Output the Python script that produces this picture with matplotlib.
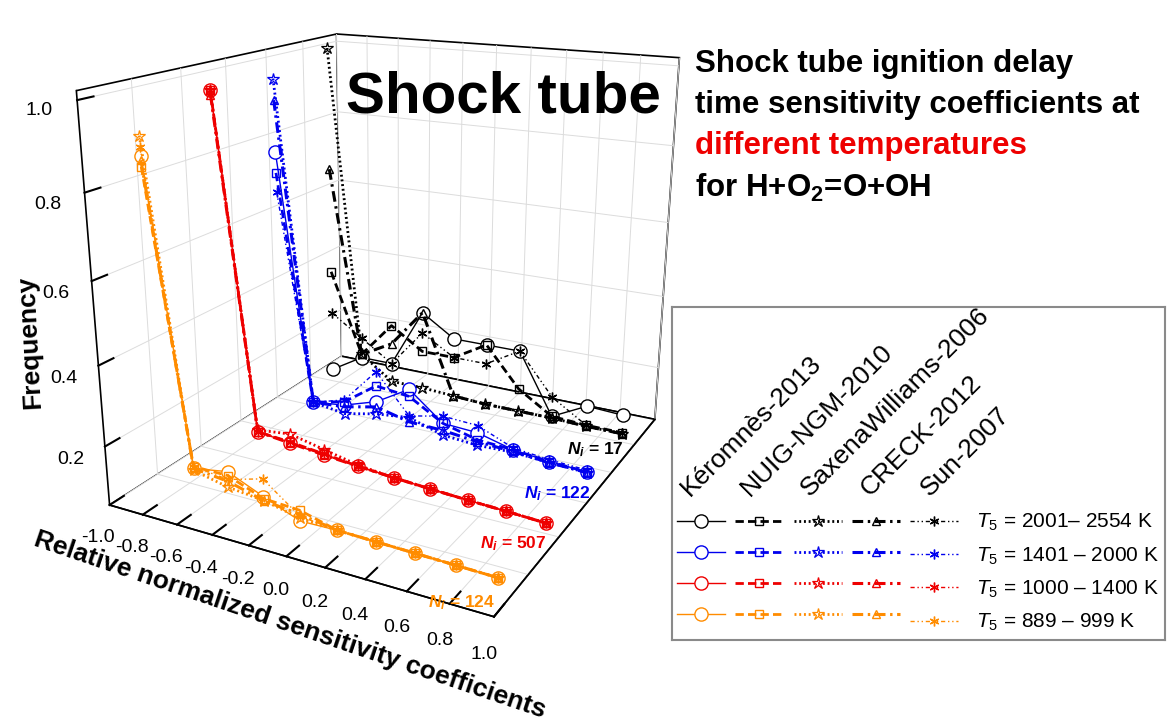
import matplotlib
matplotlib.use("Agg")
import matplotlib.pyplot as plt
from matplotlib.lines import Line2D
import numpy as np

# bin centres of the relative normalized sensitivity coefficient
bins = [-0.9, -0.7, -0.5, -0.3, -0.1, 0.1, 0.3, 0.5, 0.7, 0.9]
xtick_labels = ["-1.0", "-0.8", "-0.6", "-0.4", "-0.2", "0.0", "0.2", "0.4", "0.6", "0.8", "1.0"]
models = ["Kéromnès-2013", "NUIG-NGM-2010", "SaxenaWilliams-2006", "CRECK-2012", "Sun-2007"]
t_ranges = ["2001– 2554", "1401 – 2000", "1000 – 1400", "889 – 999"]
n_counts = [17, 122, 507, 124]

# frequency per bin, one row per model (same order as models)
freq_2001 = [
    [0.065, 0.12, 0.12, 0.29, 0.23, 0.23, 0.23, 0.06, 0.11, 0.105],
    [0.365, 0.13, 0.235, 0.175, 0.175, 0.23, 0.12, 0.06, 0.055, 0.055],
    [1.0, 0.13, 0.065, 0.065, 0.06, 0.055, 0.055, 0.055, 0.052, 0.052],
    [0.665, 0.13, 0.18, 0.29, 0.06, 0.055, 0.055, 0.055, 0.052, 0.052],
    [0.24, 0.18, 0.12, 0.23, 0.175, 0.175, 0.23, 0.115, 0.055, 0.055],
]
freq_1401 = [
    [0.765, 0.083, 0.095, 0.125, 0.18, 0.105, 0.1, 0.075, 0.065, 0.06],
    [0.71, 0.083, 0.105, 0.17, 0.16, 0.105, 0.08, 0.075, 0.065, 0.06],
    [0.955, 0.083, 0.07, 0.09, 0.1, 0.072, 0.065, 0.068, 0.062, 0.058],
    [0.90, 0.083, 0.09, 0.11, 0.088, 0.085, 0.075, 0.07, 0.062, 0.058],
    [0.66, 0.083, 0.11, 0.21, 0.105, 0.125, 0.12, 0.08, 0.07, 0.065],
]
freq_1000 = [
    [0.965, 0.105, 0.095, 0.085, 0.077, 0.07, 0.064, 0.059, 0.055, 0.05],
    [0.965, 0.105, 0.098, 0.088, 0.077, 0.07, 0.064, 0.059, 0.055, 0.05],
    [0.965, 0.11, 0.12, 0.1, 0.08, 0.07, 0.064, 0.059, 0.055, 0.05],
    [0.955, 0.105, 0.095, 0.085, 0.077, 0.07, 0.064, 0.059, 0.055, 0.05],
    [0.965, 0.105, 0.098, 0.088, 0.077, 0.07, 0.064, 0.059, 0.055, 0.05],
]
freq_889 = [
    [0.86, 0.12, 0.135, 0.095, 0.058, 0.06, 0.058, 0.056, 0.054, 0.052],
    [0.835, 0.125, 0.125, 0.09, 0.085, 0.06, 0.058, 0.056, 0.054, 0.052],
    [0.905, 0.115, 0.095, 0.085, 0.065, 0.06, 0.058, 0.056, 0.054, 0.052],
    [0.85, 0.12, 0.11, 0.085, 0.075, 0.06, 0.058, 0.056, 0.054, 0.052],
    [0.88, 0.125, 0.115, 0.14, 0.07, 0.06, 0.058, 0.056, 0.054, 0.052],
]
freqs = [freq_2001, freq_1401, freq_1000, freq_889]
colors = ["#000000", "#0000ee", "#ee0000", "#ff8c00"]

styles = [
    dict(marker="o", ms=9.5, lw=1.0, ls="-", mfc="white", mew=1.0),
    dict(marker="s", ms=6, lw=2.0, ls=(0, (3, 1.5)), mfc="none", mew=1.0),
    dict(marker="*", ms=9, lw=2.0, ls=(0, (0.7, 1.0)), mfc="none", mew=0.9),
    dict(marker="^", ms=6, lw=2.2, ls=(0, (3.5, 1.5, 0.8, 1.5)), mfc="none", mew=1.0),
    dict(marker=(6, 2, 0), ms=7, lw=1.0, ls=(0, (3, 2, 1, 2, 1, 2)), mfc="none", mew=1.0),
]

plt.rcParams["font.family"] = ["Liberation Sans", "DejaVu Sans"]
plt.rcParams["axes.unicode_minus"] = False
plt.rcParams["mathtext.fontset"] = "custom"
plt.rcParams["mathtext.rm"] = "Liberation Sans"
plt.rcParams["mathtext.it"] = "Liberation Sans:italic"
plt.rcParams["mathtext.bf"] = "Liberation Sans:bold"
plt.rcParams["mathtext.bfit"] = "Liberation Sans:bold:italic"

fig = plt.figure(figsize=(11.71, 7.2), dpi=100)
ax = fig.add_axes([0.005, 0.114, 0.66, 0.98], projection="3d",
                  proj_type="persp", focal_length=0.33, computed_zorder=False)
ax.view_init(elev=18, azim=-62)
ax.set_box_aspect((1.06, 1.15, 1.05), zoom=1.0)

for gi, (freq, color) in enumerate(zip(freqs, colors)):
    depth = len(freqs) - gi - 0.5
    for mi, st in enumerate(styles):
        ax.plot(bins, [depth] * len(bins), freq[mi], color=color, mec=color, **st)
    ax.text(0.84, depth - 0.45, 0.05, r"$\mathbfit{N}_{\mathbfit{i}}$ = %d" % n_counts[gi],
            color=color, fontsize=12.5, weight="bold", rotation=-23,
            ha="center", va="center")

ax.set_xlim(-1, 1)
ax.set_ylim(0, 4)
ax.set_zlim(0.05, 1.02)
ax.set_xticks(np.linspace(-1.0, 1.0, len(xtick_labels)))
ax.set_xticklabels(xtick_labels)
ax.set_yticks(np.linspace(0, 4, 7)[1:-1])
ax.set_yticklabels([])
ax.set_zticks([0.2, 0.4, 0.6, 0.8, 1.0])
ax.tick_params(axis="x", labelsize=14, pad=3)
ax.tick_params(axis="z", labelsize=14, pad=6)
ax.zaxis.set_ticks_position("lower")
ax.zaxis.set_label_position("lower")

for axis in (ax.xaxis, ax.yaxis, ax.zaxis):
    axis.set_pane_color((1, 1, 1, 1))
    axis.pane.set_edgecolor("black")
    axis.pane.set_linewidth(1.2)
    axis.line.set_color("black")
    axis.line.set_linewidth(1.2)
    axis._axinfo["tick"]["inward_factor"] = 0.0
    axis._axinfo["tick"]["outward_factor"] = 0.6
    axis._axinfo["tick"]["linewidth"] = {True: 1.5, False: 1.0}
    axis._axinfo["grid"]["color"] = "#dcdcdc"
    axis._axinfo["grid"]["linewidth"] = 0.7
ax.yaxis._axinfo["tick"]["outward_factor"] = 0.0

# axis titles placed along the projected axes
fig.text(290 / 1171, 1 - 625 / 720, "Relative normalized sensitivity coefficients",
         fontsize=19, weight="bold", rotation=-18.7, rotation_mode="anchor",
         ha="center", va="center")
fig.text(30 / 1171, 1 - 342 / 720, "Frequency", fontsize=19, weight="bold",
         rotation=93, rotation_mode="anchor", ha="center", va="center")

fig.text(0.430, 0.844, "Shock tube", fontsize=42, weight="bold",
         ha="center", va="baseline")
title_x = 0.5935
fig.text(title_x, 0.900, "Shock tube ignition delay", fontsize=22.5, weight="bold",
         va="baseline")
fig.text(title_x, 0.843, "time sensitivity coefficients at", fontsize=22.5,
         weight="bold", va="baseline")
fig.text(title_x, 0.786, "different temperatures", fontsize=22.5, weight="bold",
         color="#ee0000", va="baseline")
fig.text(title_x, 0.727, r"for H+O$_\mathbf{2}$=O+OH", fontsize=22.5, weight="bold",
         va="baseline")

# legend box with rotated model names as column headers
lax = fig.add_axes([672 / 1171, 1 - 640 / 720, 493 / 1171, 333 / 720])
lax.set_xlim(0, 1)
lax.set_ylim(0, 1)
lax.set_xticks([])
lax.set_yticks([])
for sp in lax.spines.values():
    sp.set_color("#8a8a8a")
    sp.set_linewidth(1.5)

handles = []
labels = []
for mi, st in enumerate(styles):
    for gi, color in enumerate(colors):
        handles.append(Line2D([], [], color=color, mec=color, **st))
        if mi == len(styles) - 1:
            labels.append(r"$T_{\mathit{5}}$ = %s K" % t_ranges[gi])
        else:
            labels.append("")
lax.legend(handles, labels, ncol=5, loc="lower left", bbox_to_anchor=(0.01, 0.02),
           frameon=False, fontsize=15, handlelength=2.3, handletextpad=0.85,
           columnspacing=-0.35, labelspacing=0.58, borderpad=0.0,
           borderaxespad=0.0, numpoints=1)

for mi, name in enumerate(models):
    lax.text(0.036 + mi * 0.1217, 0.43, name, fontsize=19, rotation=45,
             rotation_mode="anchor", ha="left", va="baseline")

fig.savefig("out.png", dpi=100)
